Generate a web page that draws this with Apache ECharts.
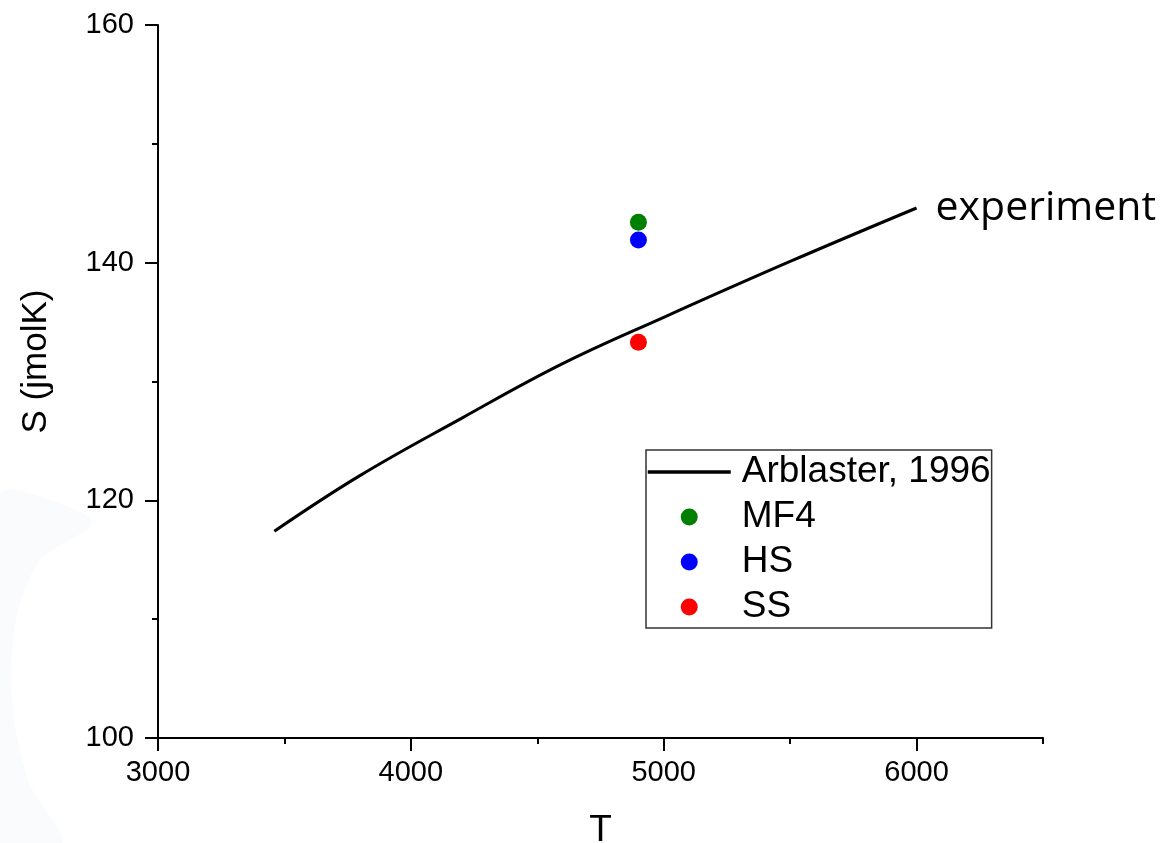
<!DOCTYPE html>
<html>
<head>
<meta charset="utf-8">
<title>S vs T</title>
<script src="https://cdn.jsdelivr.net/npm/echarts@6/dist/echarts.min.js"></script>
<style>
  html, body { margin: 0; padding: 0; background: #ffffff; }
  #chart { width: 1165px; height: 843px; }
</style>
</head>
<body>
<div id="chart"></div>
<script>
// Arblaster (1996) entropy curve, S in J/(mol K) vs temperature T
const curveT = [3460, 3800, 4200, 4600, 5000, 5500, 6000];
const curveS = [117.4, 122.1, 126.9, 131.5, 135.4, 140.1, 144.6];

// Computed points at a single temperature
const pointT = 4900;
const mf4S = 143.4;
const hsS = 141.9;
const ssS = 133.3;

const xMajorTicks = [3000, 4000, 5000, 6000];
const xMinorTicks = [3500, 4500, 5500, 6500];
const yTicks = [100, 120, 140, 160];

const FONT = '"Liberation Sans", Arial, sans-serif';

const chart = echarts.init(document.getElementById('chart'), null, { renderer: 'canvas' });

const axisLine = { show: true, onZero: false, lineStyle: { color: '#000', width: 2 } };
const plain = v => String(v);

chart.setOption({
  backgroundColor: '#ffffff',
  animation: false,
  // faint light swirl in the lower-left corner of the page
  graphic: [{
    type: 'polygon',
    shape: {
      points: [[0, 495], [50, 500], [92, 523], [40, 560], [16, 620], [12, 700], [28, 780], [62, 843], [0, 843]],
      smooth: 0.3
    },
    style: { fill: '#fafbfd' },
    silent: true,
    z: -10
  }],
  grid: { left: 158, top: 25, right: 122, bottom: 105, outerBoundsMode: 'none' },
  xAxis: [
    {
      type: 'value',
      min: 3000,
      max: 6500,
      interval: 500,
      axisLine: axisLine,
      axisTick: { show: true, inside: false, length: 13, customValues: xMajorTicks,
                  lineStyle: { color: '#000', width: 2 } },
      axisLabel: { show: true, customValues: xMajorTicks, margin: 20, formatter: plain,
                   color: '#000', fontSize: 29, fontFamily: FONT },
      splitLine: { show: false },
      name: 'T',
      nameLocation: 'middle',
      nameGap: 74,
      nameTextStyle: { color: '#000', fontSize: 37, fontFamily: FONT }
    },
    {
      type: 'value',
      min: 3000,
      max: 6500,
      position: 'bottom',
      axisLine: { show: false, onZero: false },
      axisTick: { show: true, inside: false, length: 6, customValues: xMinorTicks,
                  lineStyle: { color: '#000', width: 2 } },
      axisLabel: { show: false },
      splitLine: { show: false }
    }
  ],
  yAxis: {
    type: 'value',
    min: 100,
    max: 160,
    interval: 20,
    axisLine: axisLine,
    axisTick: { show: true, inside: false, length: 13, lineStyle: { color: '#000', width: 2 } },
    minorTick: { show: true, splitNumber: 2, length: 6, lineStyle: { color: '#000', width: 2 } },
    axisLabel: { margin: 24, color: '#000', fontSize: 29, fontFamily: FONT,
                 customValues: yTicks, formatter: plain },
    splitLine: { show: false },
    minorSplitLine: { show: false },
    name: 'S (jmolK)',
    nameLocation: 'middle',
    nameGap: 104,
    nameTextStyle: { color: '#000', fontSize: 35, fontFamily: FONT, padding: [0, 0, 0, 40] }
  },
  legend: {
    orient: 'vertical',
    left: 646,
    top: 450,
    padding: [2, 1, 1, 0],
    itemWidth: 83,
    itemHeight: 17,
    itemGap: 5,
    borderColor: '#333',
    borderWidth: 1.5,
    backgroundColor: '#fff',
    selectedMode: false,
    textStyle: { color: '#000', fontSize: 37, lineHeight: 40, fontFamily: FONT, padding: [0, 0, 0, 6] },
    data: [
      { name: 'Arblaster, 1996', itemStyle: { opacity: 0 }, lineStyle: { width: 3.5, color: '#000' } },
      'MF4', 'HS', 'SS'
    ]
  },
  series: [
    {
      name: 'Arblaster, 1996',
      type: 'line',
      smooth: 0.4,
      symbol: 'none',
      data: curveT.map((t, i) => [t, curveS[i]]),
      lineStyle: { color: '#000', width: 3 },
      itemStyle: { color: '#000' },
      endLabel: {
        show: true,
        formatter: 'experiment',
        distance: 19,
        color: '#000',
        fontSize: 41,
        fontFamily: '"Open Sans", sans-serif'
      },
      z: 3
    },
    {
      name: 'MF4', type: 'scatter', symbol: 'circle', symbolSize: 17,
      data: [[pointT, mf4S]], itemStyle: { color: '#008000', opacity: 1 }, z: 4
    },
    {
      name: 'HS', type: 'scatter', symbol: 'circle', symbolSize: 17,
      data: [[pointT, hsS]], itemStyle: { color: '#0000ff', opacity: 1 }, z: 4
    },
    {
      name: 'SS', type: 'scatter', symbol: 'circle', symbolSize: 17,
      data: [[pointT, ssS]], itemStyle: { color: '#ff0000', opacity: 1 }, z: 4
    }
  ]
});
</script>
</body>
</html>
